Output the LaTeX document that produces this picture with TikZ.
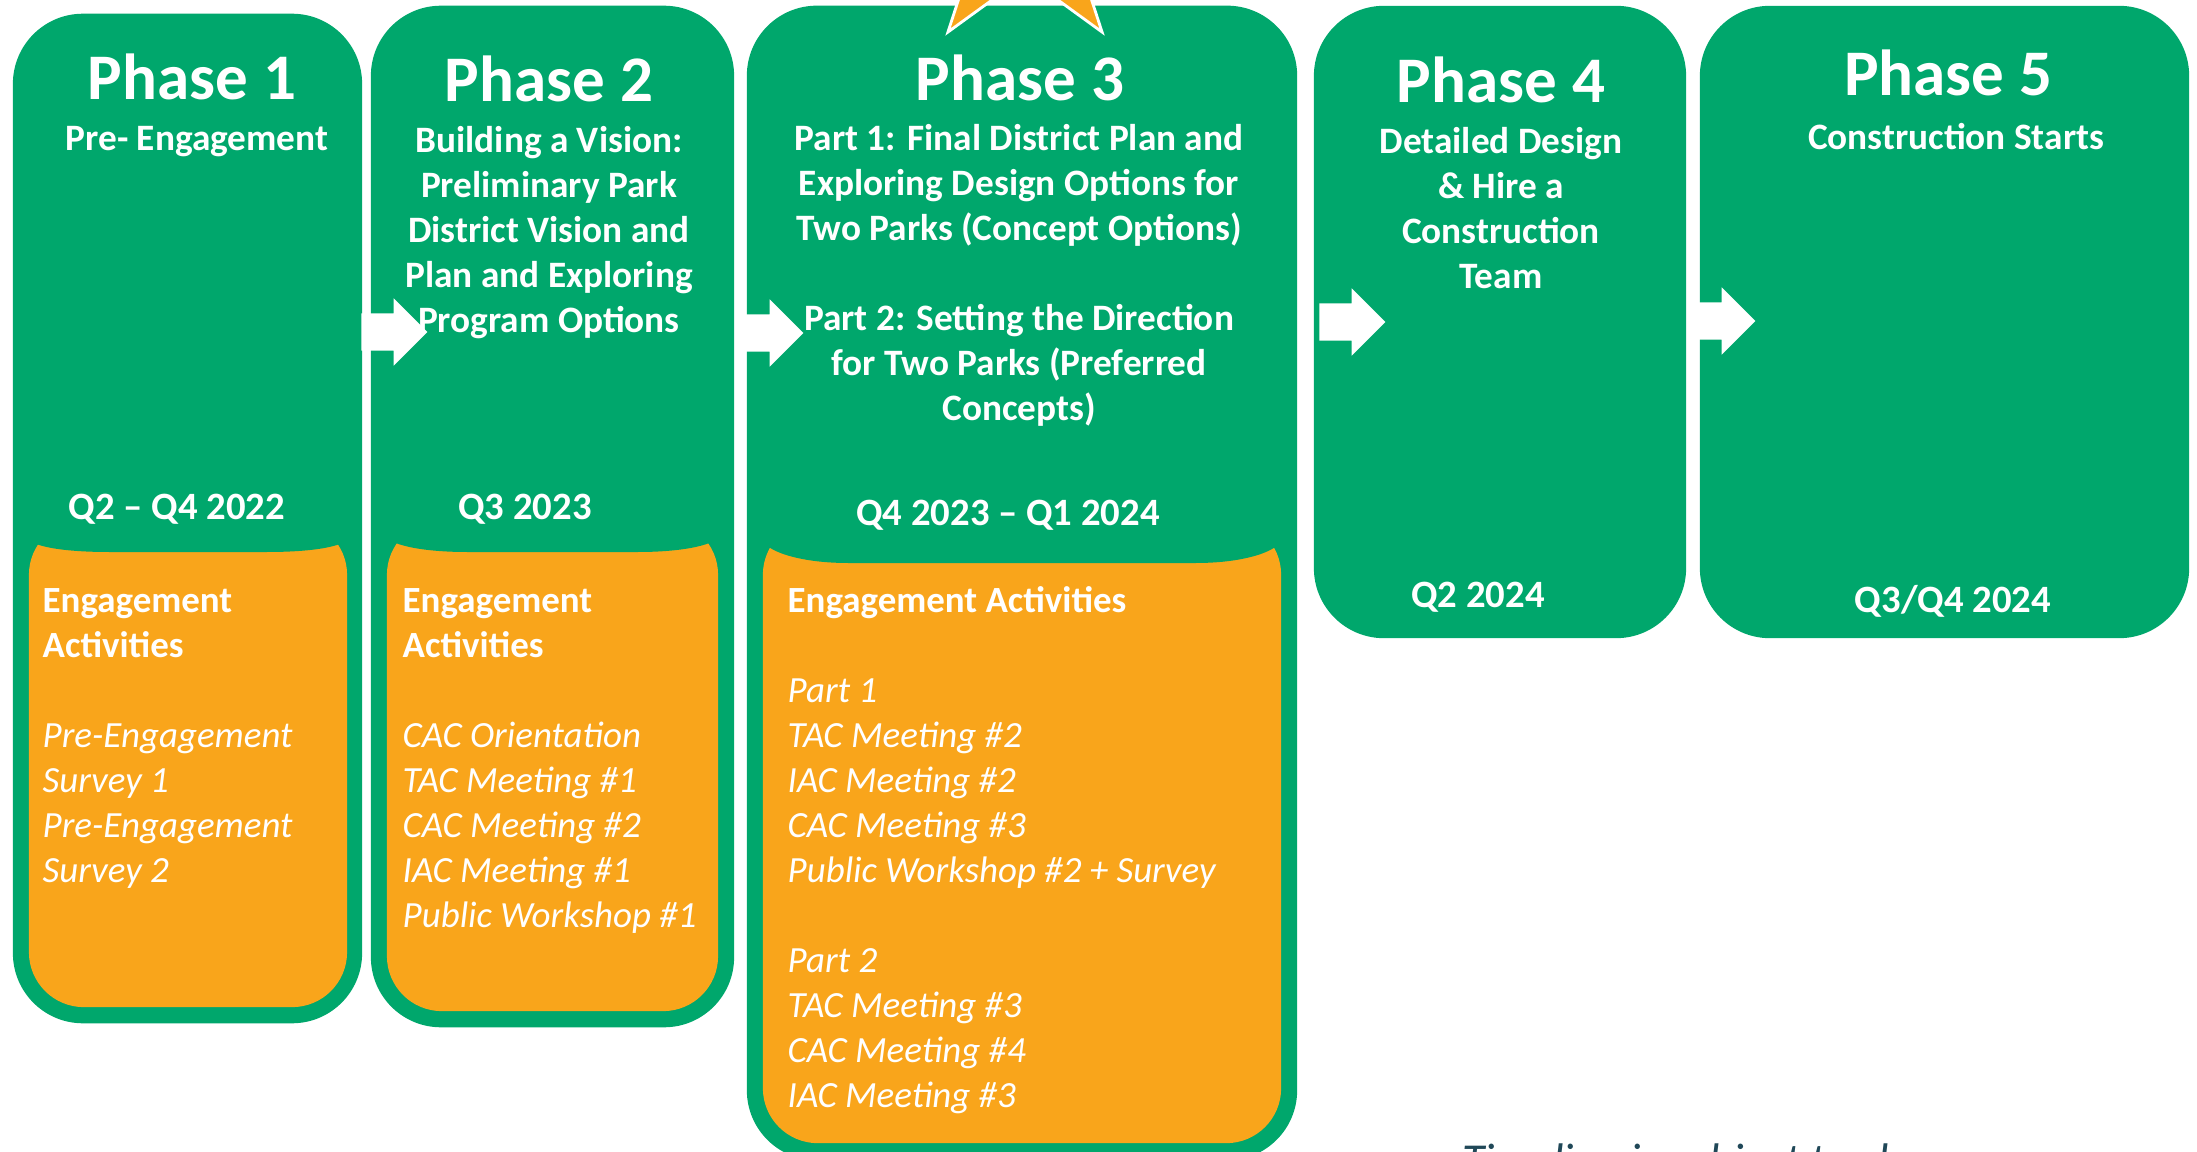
\documentclass[tikz,border=0pt]{standalone}
\usepackage{fontspec}
\setmainfont{Carlito}
\usetikzlibrary{shapes.arrows,shapes.geometric}
\definecolor{phgreen}{RGB}{0,167,108}
\definecolor{actorange}{RGB}{249,165,27}
\definecolor{notecol}{RGB}{32,72,88}

\begin{document}
\begin{tikzpicture}
[x=0.01cm,y=-0.01cm,
phasebox/.style={fill=phgreen, rounded corners=0.7cm, inner sep=0pt},
actbox/.style={fill=actorange, rounded corners=0.55cm, inner sep=0pt},
phasetitle/.style={text=white, inner sep=0pt, font=\bfseries\fontsize{18.5}{22}\selectfont},
phasesub/.style={text=white, inner sep=0pt, anchor=north, align=center, font=\bfseries\fontsize{10.6}{12.8}\selectfont},
phasedate/.style={text=white, inner sep=0pt, font=\bfseries\fontsize{11}{13}\selectfont},
actlist/.style={text=white, inner sep=0pt, anchor=north west, align=left, font=\itshape\fontsize{10.5}{12.8}\selectfont},
flowarrow/.style={single arrow, fill=white, inner xsep=0pt, inner ysep=0.18cm, minimum height=0.66cm, minimum width=0.66cm, single arrow head extend=0.15cm},
notetext/.style={text=notecol, inner sep=0pt, anchor=base west, font=\itshape\fontsize{13}{15}\selectfont}]
\useasboundingbox (0,0) rectangle (2197,1152);
\clip (0,0) rectangle (2197,1152);
%%
\node[phasebox, minimum width=3.49cm, minimum height=10.09cm] (ph1) at (187.5,518.5) {};
\node[actbox, minimum width=3.18cm, minimum height=4.87cm] (act1) at (188,763.5) {};
\fill[phgreen] (28,515) -- (28,537) .. controls (29,546) and (61,552) .. (109,552) -- (267,552) .. controls (315,552) and (347,546) .. (348,537) -- (348,515) -- cycle;
\node[phasetitle] (t1) at (192,77) {Phase 1};
\node[phasesub] (s1) at (197,126) {Pre- Engagement};
\node[phasedate] (d1) at (177,509) {Q2 -- Q4 2022};
\node[actlist] (l1) at (42,588) {\textup{\textbf{Engagement}}\\\textup{\textbf{Activities}}\\[12.8pt]Pre-Engagement\\Survey 1\\Pre-Engagement\\Survey 2};
%%
\node[phasebox, minimum width=3.63cm, minimum height=10.21cm] (ph2) at (552.5,516.5) {};
\node[actbox, minimum width=3.31cm, minimum height=4.91cm] (act2) at (552.5,765.5) {};
\fill[phgreen] (386,515) -- (386,535) .. controls (387,544) and (419,552) .. (467,552) -- (638,552) .. controls (686,552) and (718,544) .. (719,535) -- (719,515) -- cycle;
\node[phasetitle] (t2) at (549,79) {Phase 2};
\node[phasesub] (s2) at (549,126) {Building a Vision:\\Preliminary Park\\District Vision and\\Plan and Exploring\\Program Options};
\node[phasedate] (d2) at (525,509) {Q3 2023};
\node[actlist] (l2) at (402,588) {\textup{\textbf{Engagement}}\\\textup{\textbf{Activities}}\\[12.8pt]CAC Orientation\\TAC Meeting \#1\\CAC Meeting \#2\\IAC Meeting \#1\\Public Workshop \#1};
%%
\node[phasebox, minimum width=5.50cm, minimum height=11.54cm] (ph3) at (1022,583) {};
\node[actbox, minimum width=5.18cm, minimum height=6.23cm] (act3) at (1022,831.5) {};
\fill[phgreen] (762,515) -- (762,538) .. controls (763,550) and (797,563) .. (848,563) -- (1196,563) .. controls (1247,563) and (1281,550) .. (1282,538) -- (1282,515) -- cycle;
\node[star, star points=5, star point ratio=2.618, minimum size=2.62cm, inner sep=0pt, fill=actorange, draw=white, line width=0.8pt] (star) at (1025,-74) {};
\node[phasetitle] (t3) at (1020,78) {Phase 3};
\node[phasesub] (s3) at (1019,124) {Part 1: Final District Plan and\\Exploring Design Options for\\Two Parks (Concept Options)\\[12.8pt]Part 2: Setting the Direction\\for Two Parks (Preferred\\Concepts)};
\node[phasedate] (d3) at (1008,515) {Q4 2023 -- Q1 2024};
\node[actlist] (l3) at (787,586) {\textup{\textbf{Engagement Activities}}\\[12.8pt]Part 1\\TAC Meeting \#2\\IAC Meeting \#2\\CAC Meeting \#3\\Public Workshop \#2 + Survey\\[12.8pt]Part 2\\TAC Meeting \#3\\CAC Meeting \#4\\IAC Meeting \#3};
%%
\node[phasebox, minimum width=3.72cm, minimum height=6.32cm] (ph4) at (1500,322) {};
\node[phasetitle] (t4) at (1501,80) {Phase 4};
\node[phasesub] (s4) at (1501,127) {Detailed Design\\\& Hire a\\Construction\\Team};
\node[phasedate] (d4) at (1478,597) {Q2 2024};
%%
\node[phasebox, minimum width=4.89cm, minimum height=6.32cm] (ph5) at (1944.5,322) {};
\node[phasetitle] (t5) at (1948,73) {Phase 5};
\node[phasesub] (s5) at (1956,123) {Construction Starts};
\node[phasedate] (d5) at (1953,601) {Q3/Q4 2024};
%%
\node[flowarrow] (a12) at (385,332) {};
\node[flowarrow] (a23) at (761,333) {};
\node[flowarrow] (a34) at (1343,322) {};
\node[flowarrow] (a45) at (1713,321) {};
%%
\node[notetext] (note) at (1462,1175) {Timeline is subject to change};
\end{tikzpicture}
\end{document}
